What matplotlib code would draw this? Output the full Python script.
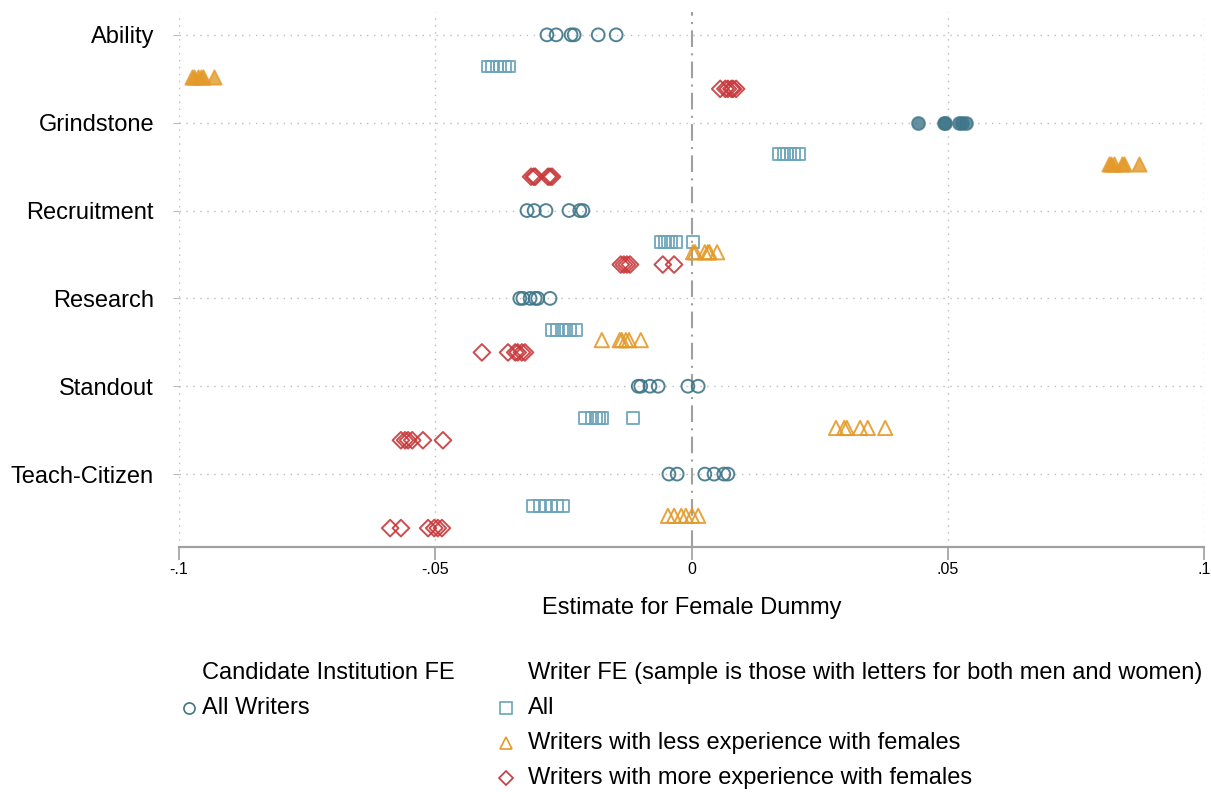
import matplotlib
matplotlib.use('Agg')
import matplotlib.pyplot as plt
from matplotlib.lines import Line2D

plt.rcParams['font.family'] = ['Liberation Sans', 'DejaVu Sans']

categories = ['Ability', 'Grindstone', 'Recruitment', 'Research', 'Standout', 'Teach-Citizen']

# Candidate Institution FE, all writers
circles_all = [
    [-0.0282, -0.0264, -0.0235, -0.0229, -0.0182, -0.0147],
    [0.0442, 0.0493, 0.0494, 0.0522, 0.0527, 0.0535],
    [-0.0321, -0.0307, -0.0284, -0.0239, -0.0218, -0.0212],
    [-0.0335, -0.0329, -0.0315, -0.0305, -0.0300, -0.0276],
    [-0.0104, -0.0099, -0.0081, -0.0065, -0.0007, 0.0013],
    [-0.0044, -0.0028, 0.0026, 0.0044, 0.0063, 0.0071],
]
# Writer FE, all
squares_all = [
    [-0.0397, -0.0389, -0.0379, -0.0374, -0.0364, -0.0356],
    [0.0171, 0.0180, 0.0187, 0.0193, 0.0200, 0.0209],
    [-0.0060, -0.0052, -0.0046, -0.0040, -0.0030, 0.0003],
    [-0.0272, -0.0263, -0.0253, -0.0245, -0.0237, -0.0226],
    [-0.0208, -0.0194, -0.0186, -0.0180, -0.0175, -0.0114],
    [-0.0309, -0.0296, -0.0284, -0.0274, -0.0262, -0.0251],
]
# Writer FE, less experience with females
tri_less = [
    [-0.0975, -0.0970, -0.0963, -0.0958, -0.0953, -0.0932],
    [0.0815, 0.0818, 0.0824, 0.0840, 0.0844, 0.0873],
    [0.0003, 0.0007, 0.0026, 0.0032, 0.0035, 0.0050],
    [-0.0175, -0.0140, -0.0136, -0.0128, -0.0122, -0.0099],
    [0.0282, 0.0298, 0.0303, 0.0329, 0.0344, 0.0378],
    [-0.0046, -0.0034, -0.0020, -0.0011, 0.0001, 0.0013],
]
# Writer FE, more experience with females
dia_more = [
    [0.0056, 0.0066, 0.0071, 0.0078, 0.0081, 0.0087],
    [-0.0313, -0.0308, -0.0305, -0.0280, -0.0276, -0.0272],
    [-0.0138, -0.0132, -0.0126, -0.0120, -0.0056, -0.0034],
    [-0.0409, -0.0358, -0.0344, -0.0339, -0.0331, -0.0325],
    [-0.0567, -0.0559, -0.0553, -0.0545, -0.0524, -0.0485],
    [-0.0588, -0.0567, -0.0514, -0.0502, -0.0495, -0.0487],
]
circle_filled = [False, True, False, False, False, False]
square_filled = [False] * 6
tri_filled = [True, True, False, False, False, False]
dia_filled = [False] * 6

xticks = [-0.1, -0.05, 0, 0.05, 0.1]
xticklabels = ['-.1', '-.05', '0', '.05', '.1']

series = [
    (circles_all, circle_filled, 'o', '#3f7689', 0.0, 85),
    (squares_all, square_filled, 's', '#6da4b9', 0.36, 72),
    (tri_less, tri_filled, '^', '#e39a2a', 0.475, 105),
    (dia_more, dia_filled, 'D', '#c8383b', 0.615, 72),
]

fig = plt.figure(figsize=(12.11, 7.92), dpi=100)
ax = fig.add_axes([179 / 1211, 1 - 547 / 792, 1025 / 1211, 535 / 792])

for data, filled, mk, col, off, size in series:
    for k, vals in enumerate(data):
        ys = [k + off] * len(vals)
        if filled[k]:
            ax.scatter(vals, ys, marker=mk, s=size, facecolors=col, edgecolors=col,
                       linewidths=1.4, alpha=0.8, zorder=3)
        else:
            ax.scatter(vals, ys, marker=mk, s=size, facecolors='none', edgecolors=col,
                       linewidths=1.4, alpha=0.9, zorder=3)

ax.set_xlim(-0.1, 0.1)
ax.set_ylim(5.83, -0.26)

# grid
for k in range(len(categories)):
    ax.axhline(k, color='#bbbbbb', lw=1, ls=(0, (1, 4)), zorder=1)
for xv in [-0.1, -0.05, 0.05, 0.1]:
    ax.axvline(xv, color='#bbbbbb', lw=1, ls=(0, (1, 4)), zorder=1)
ax.axvline(0, color='#a0a0a0', lw=1.5, ls=(0, (8, 3, 1, 3)), zorder=2)

for s in ['top', 'right', 'left']:
    ax.spines[s].set_visible(False)
ax.spines['bottom'].set_color('#a0a0a0')
ax.spines['bottom'].set_linewidth(1.6)

ax.set_yticks(range(len(categories)))
ax.set_yticklabels(categories, fontsize=17)
ax.tick_params(axis='y', length=4, color='#bbbbbb', pad=14)
ax.set_xticks(xticks)
ax.set_xticklabels(xticklabels, fontsize=11.5)
ax.tick_params(axis='x', length=9, width=1.2, color='#a0a0a0', pad=2)
ax.set_xlabel('Estimate for Female Dummy', fontsize=17, labelpad=14)

# legend, built by hand
def fy(py):
    return 1 - py / 792

def fx(px):
    return px / 1211

fig.text(fx(202), fy(673), 'Candidate Institution FE', fontsize=17, va='center')
fig.text(fx(528), fy(673), 'Writer FE (sample is those with letters for both men and women)',
         fontsize=17, va='center')
legend_rows = [
    (189, 708, 'o', '#3f7689', 'All Writers', 202),
    (506, 708, 's', '#6da4b9', 'All', 528),
    (506, 743, '^', '#e39a2a', 'Writers with less experience with females', 528),
    (506, 778, 'D', '#c8383b', 'Writers with more experience with females', 528),
]
for px, py, mk, col, lab, tx in legend_rows:
    ms = 7 if mk == 'D' else 8
    fig.add_artist(Line2D([fx(px)], [fy(py)], marker=mk, markersize=ms, markerfacecolor='none',
                          markeredgecolor=col, markeredgewidth=1.2, transform=fig.transFigure))
    fig.text(fx(tx), fy(py), lab, fontsize=17, va='center')

fig.savefig('out.png', dpi=100)
